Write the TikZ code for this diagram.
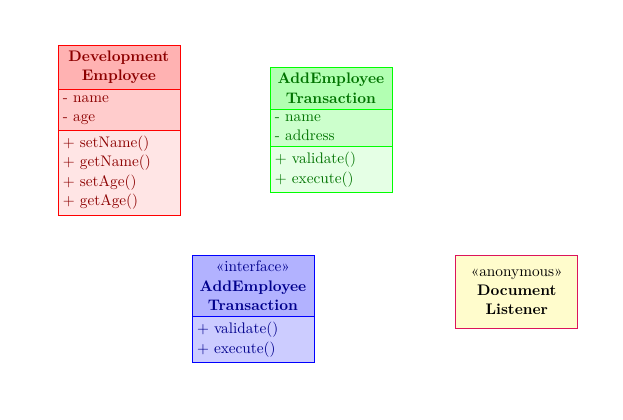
\documentclass[tikz,border=0pt]{standalone}
\usepackage{fontspec}
\usepackage{tikz}
\usetikzlibrary{shapes.multipart,positioning}
\definecolor{anonborder}{RGB}{220,20,90}
\newcommand{\classtitle}[1]{\parbox[t]{2.57cm}{\centering #1}}
\newcommand{\classbody}[1]{\parbox[t]{2.57cm}{\raggedright #1}}
\tikzstyle{umlclass}=[rectangle split, draw, inner xsep=3.3pt, inner ysep=3.5pt, anchor=north, font=\fontsize{10}{12.7}\selectfont]
\tikzstyle{red class}=[umlclass, rectangle split parts=3, draw=red, text=red!55!black, rectangle split part fill={red!30,red!20,red!10}]
\tikzstyle{green class}=[umlclass, rectangle split parts=3, draw=green, text=green!45!black, rectangle split part fill={green!30,green!20,green!10}]
\tikzstyle{blue class}=[umlclass, rectangle split parts=2, draw=blue, text=blue!55!black, rectangle split part fill={blue!30,blue!20}]
\tikzstyle{anon class}=[umlclass, rectangle split parts=1, draw=anonborder, line width=0.6pt, text=black, rectangle split part fill={yellow!20}, inner ysep=8.3pt]

\begin{document}
\begin{tikzpicture}
  \useasboundingbox (0,0) rectangle (14.31,-9.64);

  % Concrete classes

  \node[red class] (devEmployee) at (2.73,-1.03)
  {\classtitle{\bfseries Development\\Employee}
   \nodepart{two} \classbody{- name\\- age}
   \nodepart{three} \classbody{+ setName()\\+ getName()\\+ setAge()\\+ getAge()}};

  \node[green class] (addTransaction) at (7.60,-1.54)
  {\classtitle{\bfseries AddEmployee\\Transaction}
   \nodepart{two} \classbody{- name\\- address}
   \nodepart{three} \classbody{+ validate()\\+ execute()}};

  % Interface

  \node[blue class] (addInterface) at (5.81,-5.86)
  {\classtitle{«interface»\\\textbf{AddEmployee}\\\textbf{Transaction}}
   \nodepart{two} \classbody{+ validate()\\+ execute()}};

  % Anonymous class

  \node[anon class] (docListener) at (11.87,-5.86)
  {\classtitle{«anonymous»\\\textbf{Document}\\\textbf{Listener}}};
\end{tikzpicture}
\end{document}
